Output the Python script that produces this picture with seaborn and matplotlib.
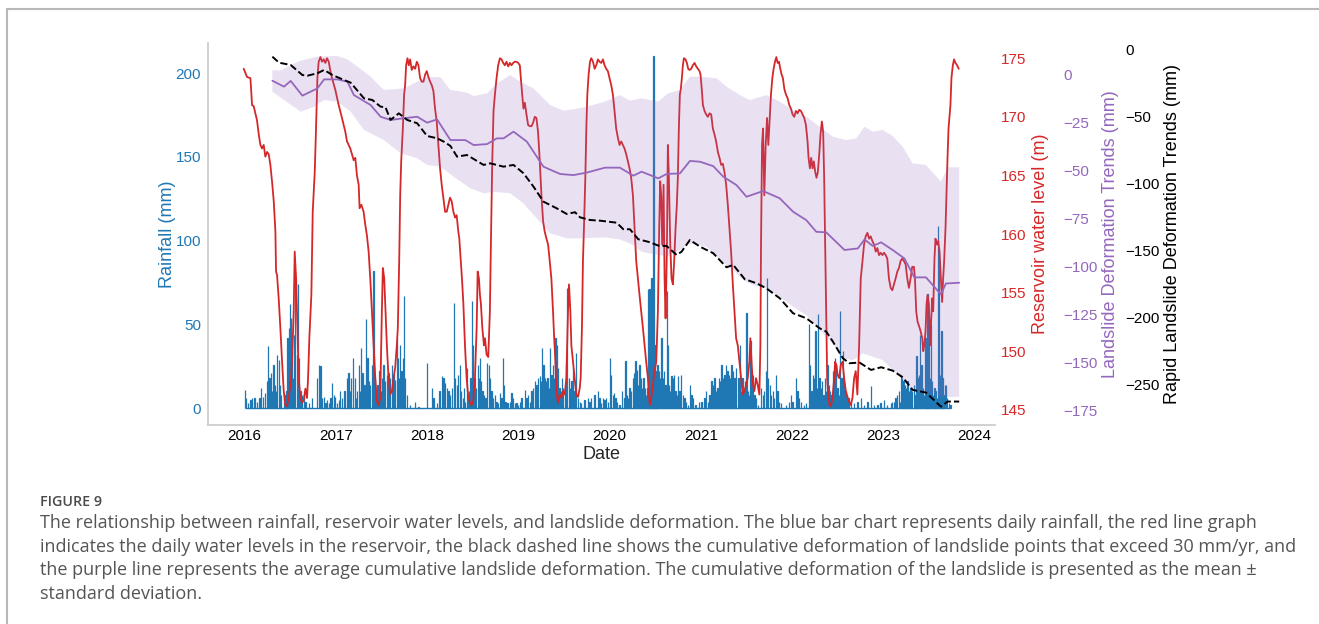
import numpy as np
import pandas as pd
import matplotlib
matplotlib.use("Agg")
import matplotlib.pyplot as plt
import matplotlib.dates as mdates
from matplotlib.lines import Line2D
import seaborn as sns

# ---------------- data (time in decimal years) ----------------
rain_t = [2016.006, 2016.020, 2016.042, 2016.068, 2016.086, 2016.111, 2016.140, 2016.166, 2016.180, 2016.202,
          2016.224, 2016.246, 2016.261, 2016.275, 2016.290, 2016.304, 2016.319, 2016.333, 2016.348, 2016.359,
          2016.377, 2016.395, 2016.406, 2016.432, 2016.450, 2016.461, 2016.472, 2016.486, 2016.497, 2016.508,
          2016.523, 2016.534, 2016.545, 2016.559, 2016.577, 2016.588, 2016.599, 2016.614, 2016.632, 2016.650,
          2016.669, 2016.705, 2016.741, 2016.796, 2016.814, 2016.833, 2016.851, 2016.869, 2016.887, 2016.905,
          2016.924, 2016.942, 2016.960, 2016.978, 2016.996, 2017.015, 2017.033, 2017.051, 2017.069, 2017.098,
          2017.124, 2017.142, 2017.160, 2017.171, 2017.190, 2017.208, 2017.222, 2017.237, 2017.252, 2017.270,
          2017.281, 2017.295,
          2017.317, 2017.335, 2017.350, 2017.364, 2017.379, 2017.397, 2017.415, 2017.430, 2017.444, 2017.459,
          2017.481, 2017.495, 2017.510, 2017.525, 2017.543, 2017.561, 2017.579, 2017.597, 2017.616, 2017.634,
          2017.652, 2017.670, 2017.681, 2017.692, 2017.707, 2017.721, 2017.736, 2017.747, 2017.761, 2017.780,
          2017.816, 2017.871, 2017.907, 2017.998, 2018.053, 2018.071, 2018.107, 2018.137, 2018.162, 2018.180,
          2018.199, 2018.217, 2018.235, 2018.253, 2018.271, 2018.297, 2018.311, 2018.326, 2018.344, 2018.362,
          2018.377, 2018.392, 2018.406, 2018.421, 2018.439, 2018.450, 2018.464, 2018.479, 2018.494, 2018.508,
          2018.523, 2018.537, 2018.556, 2018.570, 2018.581, 2018.596, 2018.610, 2018.625, 2018.643, 2018.661,
          2018.679, 2018.690, 2018.708, 2018.727, 2018.745, 2018.763, 2018.781, 2018.800, 2018.818, 2018.836,
          2018.847, 2018.861, 2018.883, 2018.909, 2018.927, 2018.945, 2018.963, 2018.982, 2019.000, 2019.018,
          2019.036, 2019.073, 2019.091, 2019.109, 2019.127, 2019.146, 2019.164, 2019.182, 2019.200, 2019.218,
          2019.237, 2019.248, 2019.262, 2019.277, 2019.291, 2019.306, 2019.320, 2019.335, 2019.350, 2019.364,
          2019.379, 2019.393, 2019.408, 2019.422, 2019.437, 2019.452, 2019.466, 2019.481, 2019.495, 2019.510,
          2019.524, 2019.539, 2019.554, 2019.568, 2019.583, 2019.601, 2019.619, 2019.637, 2019.656, 2019.674,
          2019.692, 2019.728, 2019.765, 2019.783, 2019.801, 2019.838, 2019.874, 2019.892, 2019.911, 2019.929,
          2019.947, 2019.965, 2019.983, 2020.005, 2020.020,
          2020.038, 2020.049, 2020.067, 2020.082, 2020.111, 2020.140, 2020.165, 2020.176, 2020.191, 2020.206,
          2020.220, 2020.238, 2020.257, 2020.271, 2020.286, 2020.300, 2020.315, 2020.329, 2020.344, 2020.359,
          2020.373, 2020.388, 2020.402, 2020.417, 2020.424, 2020.439, 2020.450, 2020.461, 2020.472, 2020.482,
          2020.493, 2020.504, 2020.515, 2020.526, 2020.541, 2020.555, 2020.570, 2020.584, 2020.599, 2020.614,
          2020.628, 2020.639, 2020.650, 2020.665, 2020.679, 2020.694, 2020.708, 2020.723, 2020.737, 2020.752,
          2020.767, 2020.785, 2020.803, 2020.821, 2020.839, 2020.858, 2020.883, 2020.898, 2020.912, 2020.941,
          2020.978, 2021.007, 2021.040, 2021.058, 2021.076, 2021.094, 2021.116, 2021.131, 2021.149, 2021.167,
          2021.182, 2021.196, 2021.211, 2021.226, 2021.240, 2021.258, 2021.277, 2021.291, 2021.306, 2021.320,
          2021.335, 2021.350, 2021.368, 2021.386,
          2021.411, 2021.426, 2021.440, 2021.455, 2021.470, 2021.484, 2021.499, 2021.513, 2021.528, 2021.542,
          2021.557, 2021.572, 2021.586, 2021.604, 2021.623, 2021.659, 2021.677, 2021.695, 2021.714, 2021.728,
          2021.739, 2021.754, 2021.768, 2021.787, 2021.805, 2021.823, 2021.841, 2021.859, 2021.878, 2021.932,
          2021.969, 2021.987, 2022.005, 2022.042, 2022.060, 2022.078, 2022.096, 2022.133, 2022.151, 2022.187,
          2022.198, 2022.213, 2022.227, 2022.242, 2022.256, 2022.271, 2022.286, 2022.300, 2022.315, 2022.329,
          2022.344, 2022.358, 2022.373, 2022.388, 2022.402, 2022.417, 2022.431, 2022.446, 2022.460, 2022.471,
          2022.482, 2022.497, 2022.511, 2022.526, 2022.541, 2022.555, 2022.570, 2022.584, 2022.599, 2022.617,
          2022.643, 2022.679, 2022.715, 2022.752,
          2022.788, 2022.825, 2022.861, 2022.898, 2022.934, 2022.970, 2023.007, 2023.043, 2023.080, 2023.098,
          2023.116, 2023.134, 2023.153, 2023.171, 2023.182, 2023.193, 2023.207, 2023.222, 2023.236, 2023.251,
          2023.265, 2023.280, 2023.298, 2023.316, 2023.335, 2023.353, 2023.364, 2023.375, 2023.389, 2023.404,
          2023.418, 2023.433, 2023.448, 2023.462, 2023.473, 2023.484, 2023.495, 2023.510, 2023.520, 2023.531,
          2023.546, 2023.560, 2023.571, 2023.586, 2023.597, 2023.612, 2023.622, 2023.637, 2023.648, 2023.659,
          2023.673, 2023.688, 2023.699, 2023.717, 2023.735]
rain_mm = [11, 6, 3, 5, 6, 6, 4, 6, 12, 7,
           9, 16, 37, 18, 21, 10, 26, 14, 10, 32,
           29, 14, 8, 6, 8, 10, 42, 48, 62, 54,
           28, 18, 44, 80, 32, 74, 30, 10, 8, 8,
           4, 3, 6, 18, 26, 25, 6, 7, 3, 5,
           3, 6, 15, 8, 7, 3, 5, 10, 6, 10,
           18, 21, 10, 18, 30, 18, 6, 10, 26, 10,
           36, 21,
           14, 53, 30, 16, 14, 26, 82, 18, 8, 14,
           22, 10, 18, 26, 16, 20, 21, 18, 26, 20,
           17, 42, 30, 18, 38, 22, 30, 67, 18, 8,
           2, 4, 1, 27, 12, 6, 3, 10, 19, 18,
           15, 12, 10, 8, 12, 63, 18, 14, 20, 26,
           10, 6, 12, 4, 24, 8, 10, 18, 64, 38,
           18, 12, 26, 18, 30, 16, 10, 8, 6, 27,
           26, 18, 10, 6, 8, 4, 3, 9, 6, 30,
           14, 4, 3, 4, 9, 6, 3, 3, 2, 4,
           6, 11, 6, 8, 4, 10, 12, 16, 14, 18,
           19, 16, 36, 26, 18, 16, 18, 12, 36, 20,
           26, 18, 42, 38, 24, 12, 10, 18, 12, 10,
           26, 72, 18, 12, 16, 24, 10, 33, 6, 4,
           3, 5, 6, 4, 6, 8, 10, 6, 3, 6,
           5, 6, 4, 30, 20,
           8, 9, 6, 4, 2, 10, 6, 28, 8, 6,
           12, 10, 18, 21, 28, 23, 14, 26, 18, 12,
           18, 12, 8, 12, 71, 71, 58, 78, 48, 210,
           38, 22, 16, 26, 22, 18, 42, 18, 22, 14,
           70, 38, 14, 10, 19, 18, 20, 10, 8, 19,
           10, 20, 8, 6, 4, 2, 14, 8, 6, 2,
           4, 4, 6, 10, 4, 8, 16, 14, 18, 10,
           12, 18, 16, 26, 18, 20, 26, 22, 20, 18,
           26, 22, 18, 24,
           18, 38, 10, 18, 12, 16, 57, 10, 8, 40,
           18, 20, 8, 6, 2, 12, 8, 10, 22, 78,
           18, 14, 8, 10, 6, 20, 10, 4, 3, 2,
           4, 8, 4, 18, 10, 6, 4, 2, 3, 50,
           26, 10, 20, 18, 46, 12, 56, 18, 12, 16,
           8, 18, 10, 26, 14, 10, 8, 22, 18, 30,
           26, 12, 8, 58, 18, 34, 16, 10, 8, 6,
           4, 3, 4, 6,
           2, 4, 13, 2, 2, 3, 5, 2, 3, 4,
           4, 6, 8, 10, 4, 20, 18, 16, 14, 12,
           16, 10, 12, 10, 14, 8, 31, 18, 20, 44,
           26, 12, 8, 42, 26, 68, 38, 18, 50, 16,
           8, 12, 10, 6, 109, 95, 20, 46, 18, 8,
           14, 14, 6, 3, 2]

level_t = [2015.995, 2016.031, 2016.068, 2016.086, 2016.104, 2016.140, 2016.159, 2016.177, 2016.195, 2016.213,
           2016.231, 2016.250, 2016.268, 2016.286, 2016.304, 2016.323, 2016.341, 2016.348, 2016.359, 2016.377,
           2016.395, 2016.414, 2016.432, 2016.450, 2016.468, 2016.486, 2016.505, 2016.523, 2016.541, 2016.552,
           2016.567, 2016.581, 2016.596, 2016.614, 2016.632, 2016.650, 2016.669, 2016.687, 2016.698, 2016.712,
           2016.734, 2016.749, 2016.771, 2016.785, 2016.800, 2016.814, 2016.833, 2016.851, 2016.869, 2016.887,
           2016.905, 2016.924, 2016.942, 2016.960, 2016.996, 2017.033, 2017.069, 2017.106, 2017.124, 2017.160,
           2017.197, 2017.215, 2017.233, 2017.252, 2017.262, 2017.281,
           2017.306, 2017.324, 2017.342, 2017.361, 2017.379, 2017.397, 2017.415, 2017.434, 2017.452, 2017.470,
           2017.488, 2017.506, 2017.517, 2017.532, 2017.546, 2017.561, 2017.579, 2017.597, 2017.616, 2017.634,
           2017.652, 2017.670, 2017.681, 2017.696, 2017.707, 2017.718, 2017.736, 2017.750, 2017.761, 2017.772,
           2017.787, 2017.801, 2017.816, 2017.834, 2017.852, 2017.871, 2017.889, 2017.907, 2017.925, 2017.944,
           2017.962, 2017.980, 2017.998, 2018.016, 2018.035, 2018.053, 2018.071, 2018.089, 2018.107, 2018.126,
           2018.144, 2018.162, 2018.180, 2018.199, 2018.217, 2018.235, 2018.253, 2018.271, 2018.290, 2018.308,
           2018.326, 2018.344, 2018.355, 2018.370, 2018.384, 2018.399, 2018.417, 2018.435, 2018.454, 2018.472,
           2018.490, 2018.508, 2018.526, 2018.545, 2018.556, 2018.570, 2018.581, 2018.592, 2018.607, 2018.625,
           2018.636, 2018.654,
           2018.672, 2018.690, 2018.701, 2018.716, 2018.730, 2018.745, 2018.763, 2018.781, 2018.800, 2018.818,
           2018.836, 2018.854, 2018.872, 2018.891, 2018.909, 2018.927, 2018.945, 2018.963, 2018.982, 2019.000,
           2019.018, 2019.029, 2019.044, 2019.058, 2019.073, 2019.091, 2019.109, 2019.127, 2019.146, 2019.164,
           2019.182, 2019.200, 2019.218, 2019.237, 2019.255, 2019.273, 2019.291, 2019.310, 2019.328, 2019.346,
           2019.364, 2019.382, 2019.393, 2019.408, 2019.419, 2019.437, 2019.455, 2019.473, 2019.492, 2019.510,
           2019.528, 2019.546, 2019.557, 2019.572, 2019.583, 2019.601, 2019.619, 2019.637, 2019.656, 2019.674,
           2019.685, 2019.699, 2019.710, 2019.721, 2019.736, 2019.747, 2019.758, 2019.772, 2019.787, 2019.801,
           2019.820, 2019.838, 2019.856, 2019.874, 2019.892, 2019.911, 2019.929, 2019.947, 2019.965, 2019.983,
           2020.002, 2020.020,
           2020.038, 2020.056, 2020.074, 2020.093, 2020.111, 2020.129, 2020.147, 2020.165, 2020.184, 2020.202,
           2020.220, 2020.238, 2020.257, 2020.275, 2020.293, 2020.311, 2020.329, 2020.348, 2020.366, 2020.384,
           2020.402, 2020.421, 2020.431, 2020.442, 2020.457, 2020.475, 2020.493, 2020.512, 2020.530, 2020.544,
           2020.555, 2020.566, 2020.577, 2020.592, 2020.603, 2020.614, 2020.628, 2020.639, 2020.650, 2020.665,
           2020.679, 2020.694, 2020.708, 2020.723, 2020.737, 2020.748, 2020.759, 2020.770, 2020.781, 2020.792,
           2020.803, 2020.814, 2020.832, 2020.847, 2020.861, 2020.876, 2020.894, 2020.912, 2020.931, 2020.949,
           2020.967, 2020.985, 2020.996, 2021.011, 2021.022, 2021.040, 2021.058, 2021.076, 2021.094, 2021.113,
           2021.131, 2021.149, 2021.167, 2021.186, 2021.204, 2021.222, 2021.240, 2021.258, 2021.277, 2021.295,
           2021.313, 2021.331, 2021.350, 2021.368, 2021.386,
           2021.404, 2021.422, 2021.440, 2021.459, 2021.477, 2021.495, 2021.513, 2021.532, 2021.542, 2021.557,
           2021.572, 2021.586, 2021.604, 2021.623, 2021.641, 2021.652, 2021.659, 2021.670, 2021.681, 2021.695,
           2021.710, 2021.725, 2021.739, 2021.754, 2021.768, 2021.783, 2021.797, 2021.812, 2021.827, 2021.841,
           2021.856, 2021.870, 2021.885, 2021.899, 2021.914, 2021.932, 2021.950, 2021.969, 2021.987, 2022.005,
           2022.023, 2022.042, 2022.060, 2022.078, 2022.096, 2022.114, 2022.133, 2022.151, 2022.169, 2022.180,
           2022.195, 2022.209, 2022.224, 2022.238, 2022.253, 2022.267, 2022.282, 2022.297, 2022.311, 2022.326,
           2022.340, 2022.351, 2022.362, 2022.373, 2022.384, 2022.395, 2022.410, 2022.424, 2022.442, 2022.461,
           2022.471, 2022.486, 2022.497, 2022.515, 2022.533, 2022.552, 2022.570, 2022.588, 2022.606, 2022.624,
           2022.643, 2022.661, 2022.679, 2022.697, 2022.715, 2022.734, 2022.752,
           2022.770, 2022.788, 2022.806, 2022.825, 2022.843, 2022.861, 2022.879, 2022.898, 2022.916, 2022.934,
           2022.952, 2022.970, 2022.989, 2023.007, 2023.025, 2023.043, 2023.061, 2023.080, 2023.098, 2023.116,
           2023.134, 2023.153, 2023.171, 2023.189, 2023.207, 2023.225, 2023.244, 2023.262, 2023.280, 2023.298,
           2023.316, 2023.335, 2023.346, 2023.360, 2023.375, 2023.389, 2023.408, 2023.426, 2023.437, 2023.448,
           2023.462, 2023.473, 2023.484, 2023.499, 2023.510, 2023.520, 2023.535, 2023.546, 2023.560, 2023.571,
           2023.586, 2023.601, 2023.615, 2023.630, 2023.644, 2023.655, 2023.666, 2023.681, 2023.692, 2023.703,
           2023.714, 2023.724, 2023.735, 2023.746, 2023.761, 2023.775, 2023.790, 2023.808, 2023.826]
level_m = [174.1, 173.4, 173.3, 171.0, 170.9, 169.7, 168.5, 167.6, 167.3, 167.6,
           166.6, 167.0, 166.8, 165.9, 164.5, 162.8, 160.2, 156.8, 156.5, 154.5,
           152.0, 149.1, 146.6, 145.4, 145.3, 146.0, 147.1, 149.1, 153.4, 158.5,
           156.2, 152.0, 147.7, 146.0, 145.6, 145.8, 146.8, 146.0, 147.7, 151.1,
           154.8, 161.9, 165.3, 169.0, 173.3, 174.7, 175.1, 174.7, 174.9, 174.6,
           175.0, 174.7, 173.9, 173.3, 172.3, 171.0, 169.9, 168.7, 167.9, 167.3,
           166.3, 166.5, 165.0, 164.2, 162.2, 162.5,
           161.9, 160.8, 159.9, 158.5, 156.2, 153.4, 150.5, 147.7, 145.7, 145.4,
           146.0, 153.4, 157.1, 156.2, 153.4, 150.5, 147.7, 146.3, 146.6, 147.7,
           148.6, 150.5, 152.0, 157.7, 163.3, 166.2, 169.0, 171.9, 172.7, 174.4,
           175.0, 174.4, 174.9, 174.0, 174.3, 174.1, 174.7, 174.4, 173.3, 173.0,
           173.0, 173.6, 173.9, 173.4, 173.0, 172.7, 172.2, 170.7, 169.6, 167.6,
           165.6, 164.2, 163.1, 161.9, 161.9, 162.5, 163.1, 162.8, 161.9, 161.4,
           161.6, 160.2, 159.6, 157.9, 156.2, 154.1, 150.5, 147.7, 146.0, 145.6,
           145.4, 145.8, 147.7, 152.0, 156.8, 156.2, 154.8, 154.0, 152.0, 150.5,
           151.1, 149.7,
           149.5, 153.4, 159.1, 166.2, 170.5, 171.9, 173.3, 174.4, 175.0, 174.9,
           174.6, 174.4, 174.7, 174.3, 174.6, 174.4, 174.6, 174.7, 174.7, 174.6,
           174.4, 173.3, 171.9, 170.7, 171.2, 170.2, 169.3, 169.2, 169.2, 169.5,
           170.0, 169.9, 168.7, 166.2, 163.3, 161.1, 160.2, 159.6, 159.1, 157.7,
           156.2, 153.4, 151.4, 149.1, 146.6, 145.6, 146.3, 146.0, 146.6, 146.3,
           147.7, 153.4, 155.7, 153.4, 150.5, 149.1, 147.7, 146.3, 146.1, 146.8,
           147.7, 152.0, 157.7, 160.5, 164.8, 169.0, 171.9, 173.6, 174.7, 175.0,
           174.7, 174.1, 174.4, 174.9, 174.7, 174.6, 174.9, 174.4, 174.1, 173.9,
           173.3, 172.7,
           171.9, 170.5, 169.0, 168.2, 167.6, 167.9, 167.6, 167.3, 166.8, 166.2,
           165.6, 164.8, 163.3, 160.5, 157.7, 156.2, 154.8, 153.4, 152.0, 150.5,
           149.1, 147.7, 146.3, 145.4, 146.0, 147.1, 148.3, 149.1, 153.4, 160.5,
           164.5, 163.3, 159.1, 164.2, 156.2, 152.8, 158.5, 167.6, 164.8, 159.1,
           156.2, 155.7, 157.7, 160.5, 162.5, 164.8, 169.0, 171.9, 172.4, 173.3,
           174.4, 175.0, 174.9, 174.6, 174.1, 174.0, 174.1, 174.4, 174.6, 174.3,
           174.1, 173.9, 173.6, 172.2, 171.0, 170.5, 170.2, 170.0, 170.3, 170.2,
           169.0, 168.5, 167.9, 167.0, 166.5, 165.9, 166.0, 165.3, 164.2, 162.5,
           160.5, 158.5, 155.7, 153.4, 151.1,
           150.5, 149.1, 147.7, 146.3, 146.6, 147.1, 147.7, 149.1, 151.1, 148.8,
           147.1, 146.6, 147.7, 147.1, 146.3, 150.5, 159.1, 167.6, 169.0, 163.3,
           167.6, 169.9, 167.6, 169.9, 171.9, 173.3, 174.1, 174.7, 175.1, 174.6,
           174.7, 174.1, 173.6, 173.3, 172.4, 171.9, 171.6, 171.0, 170.7, 170.2,
           170.0, 170.5, 170.3, 170.6, 170.5, 170.2, 169.9, 169.3, 167.9, 166.5,
           165.6, 166.5, 165.6, 166.2, 165.3, 164.8, 165.3, 166.8, 168.5, 169.6,
           168.7, 164.8, 159.1, 153.4, 147.7, 146.3, 145.4, 145.3, 146.0, 147.7,
           149.1, 148.8, 148.0, 147.7, 148.8, 149.1, 147.7, 146.6, 146.1, 145.7,
           145.4, 146.0, 147.7, 148.3, 146.3, 150.5, 156.2,
           157.6, 159.1, 159.8, 160.1, 159.6, 159.8, 159.4, 159.1, 158.5, 158.8,
           158.2, 158.4, 158.2, 158.4, 158.2, 157.9, 156.2, 155.4, 155.2, 155.7,
           156.2, 156.8, 157.1, 157.7, 157.9, 157.7, 157.4, 156.2, 155.4, 156.2,
           157.2, 157.2, 156.2, 153.4, 152.5, 152.2, 151.7, 151.1, 150.0, 150.5,
           151.7, 154.0, 154.8, 154.0, 150.5, 152.0, 154.5, 153.4, 157.9, 159.6,
           159.1, 159.4, 158.5, 156.2, 154.2, 156.2, 157.7, 160.5, 163.6, 166.5,
           169.0, 169.9, 171.0, 173.3, 174.4, 174.9, 174.6, 174.4, 174.1]

mean_t = [2016.308, 2016.435, 2016.508, 2016.636, 2016.800, 2016.873, 2017.018, 2017.128, 2017.200, 2017.383,
          2017.492, 2017.601, 2017.747, 2017.893, 2018.002, 2018.111, 2018.257, 2018.421, 2018.512, 2018.658,
          2018.767, 2018.840, 2018.949, 2019.095, 2019.277, 2019.459, 2019.605, 2019.750, 2019.951, 2020.115,
          2020.261, 2020.352, 2020.534, 2020.625, 2020.771, 2020.880, 2020.990, 2021.135, 2021.245, 2021.390,
          2021.500, 2021.682, 2021.864, 2022.010, 2022.155, 2022.265, 2022.374, 2022.574, 2022.720, 2022.793,
          2022.884, 2022.975, 2023.102, 2023.230, 2023.339, 2023.467, 2023.631, 2023.685, 2023.831]
mean_mm = [-3.0, -6.1, -3.1, -10.8, -7.0, -2.3, -2.3, -3.5, -10.5, -15.7,
           -21.8, -23.5, -22.6, -21.8, -24.9, -23.2, -34.0, -34.0, -36.6, -36.1,
           -33.1, -33.1, -29.6, -34.8, -47.9, -51.7, -52.3, -51.0, -48.4, -48.4,
           -52.6, -50.5, -54.0, -51.7, -51.4, -44.9, -45.3, -47.6, -53.1, -57.5,
           -63.6, -60.6, -64.4, -71.4, -75.8, -81.9, -82.2, -91.4, -90.6, -85.9,
           -89.3, -87.4, -91.4, -95.8, -105.7, -105.7, -114.6, -108.9, -108.5]

upper_t = [2016.308, 2016.399, 2016.490, 2016.618, 2016.800, 2017.018, 2017.128, 2017.237, 2017.383, 2017.528,
           2017.747, 2017.893, 2018.002, 2018.148, 2018.257, 2018.439, 2018.512, 2018.658, 2018.767, 2018.913,
           2019.022, 2019.168, 2019.350, 2019.496, 2019.605, 2019.750, 2019.951, 2020.115, 2020.224, 2020.352,
           2020.534, 2020.643, 2020.771, 2020.880, 2020.990, 2021.172, 2021.281, 2021.427, 2021.536, 2021.718,
           2021.864, 2022.010, 2022.155, 2022.301, 2022.447, 2022.592, 2022.702, 2022.793, 2022.884, 2022.993,
           2023.102, 2023.212, 2023.321, 2023.467, 2023.631, 2023.704, 2023.831]
upper_mm = [2.6, 2.3, 4.7, 7.5, 9.6, 9.9, 8.2, 4.4, -0.9, -7.8,
            -7.0, -3.5, -0.9, -1.2, -7.8, -9.2, -11.0, -9.6, -4.4, 0.0,
            -3.5, -7.0, -15.7, -18.6, -17.9, -16.6, -13.9, -10.5, -13.4, -12.2,
            -13.9, -9.6, -7.8, -0.9, -0.9, -1.7, -6.1, -10.5, -13.1, -10.5,
            -13.9, -18.3, -21.8, -27.0, -32.2, -34.0, -33.1, -27.0, -29.6, -28.7,
            -31.9, -37.5, -46.2, -47.0, -55.7, -48.2, -48.2]

lower_t = [2016.308, 2016.435, 2016.618, 2016.763, 2016.873, 2017.018, 2017.164, 2017.310, 2017.528, 2017.711,
           2017.893, 2018.002, 2018.148, 2018.293, 2018.476, 2018.621, 2018.731, 2018.913, 2019.058, 2019.204,
           2019.350, 2019.532, 2019.714, 2019.951, 2020.115, 2020.261, 2020.352, 2020.534, 2020.643, 2020.771,
           2020.880, 2021.062, 2021.208, 2021.354, 2021.463, 2021.572, 2021.718, 2021.864, 2022.010, 2022.155,
           2022.301, 2022.447, 2022.556, 2022.665, 2022.775, 2022.884, 2022.993, 2023.102, 2023.212, 2023.321,
           2023.467, 2023.631, 2023.722, 2023.831]
lower_mm = [-8.7, -13.1, -19.2, -16.6, -13.1, -13.9, -19.2, -28.7, -34.0, -40.9,
            -43.5, -47.0, -47.9, -53.1, -59.2, -61.8, -61.0, -61.8, -67.1, -74.9,
            -82.7, -85.3, -85.3, -84.8, -85.9, -88.8, -92.3, -94.1, -94.6, -91.4,
            -88.0, -89.7, -96.7, -101.9, -107.1, -109.7, -111.5, -115.8, -121.0, -125.4,
            -133.2, -140.2, -148.0, -148.9, -145.4, -147.2, -148.9, -154.1, -159.4, -164.6,
            -165.5, -168.1, -168.1, -168.1]

rapid_t = [2016.308, 2016.381, 2016.508, 2016.636, 2016.690, 2016.800, 2016.873, 2016.964, 2017.091, 2017.164,
           2017.310, 2017.401, 2017.492, 2017.546, 2017.601, 2017.692, 2017.783, 2017.893, 2018.002, 2018.111,
           2018.184, 2018.257, 2018.330, 2018.439, 2018.530, 2018.621, 2018.694, 2018.840, 2018.949, 2019.058,
           2019.168, 2019.277, 2019.423, 2019.532, 2019.623, 2019.678, 2019.787, 2019.896, 2020.079, 2020.152,
           2020.224, 2020.316, 2020.443, 2020.534, 2020.625, 2020.735, 2020.789, 2020.880, 2020.990, 2021.135,
           2021.281, 2021.354, 2021.481, 2021.609, 2021.718, 2021.864, 2022.010, 2022.155, 2022.301, 2022.374,
           2022.447, 2022.556, 2022.629, 2022.738, 2022.865, 2022.975, 2023.102, 2023.212, 2023.321, 2023.467,
           2023.631, 2023.704, 2023.831]
rapid_mm = [-5.0, -9.5, -11.2, -18.7, -19.2, -17.4, -14.9, -18.7, -22.4, -24.4,
            -36.1, -37.3, -42.3, -42.8, -52.2, -47.3, -52.2, -54.7, -64.2, -65.9,
            -68.4, -71.6, -79.6, -78.4, -82.1, -85.8, -84.6, -87.1, -85.8, -92.0,
            -102.0, -113.2, -118.2, -122.4, -121.1, -124.9, -126.9, -127.4, -128.9, -133.8,
            -133.8, -141.3, -143.5, -146.0, -146.3, -153.0, -150.5, -141.8, -146.8, -151.7,
            -162.2, -160.4, -171.1, -174.1, -177.9, -185.3, -196.5, -200.2, -207.7, -210.2,
            -217.7, -230.1, -233.8, -233.3, -238.8, -236.8, -239.3, -244.3, -253.7, -255.7,
            -266.2, -262.4, -262.4]

x_ticks = [2016, 2017, 2018, 2019, 2020, 2021, 2022, 2023, 2024]
rain_ticks = [0, 50, 100, 150, 200]
level_ticks = [145, 150, 155, 160, 165, 170, 175]
mean_ticks = [0, -25, -50, -75, -100, -125, -150, -175]
rapid_ticks = [0, -50, -100, -150, -200, -250]

caption_head = "FIGURE 9"
caption_lines = [
    "The relationship between rainfall, reservoir water levels, and landslide deformation. The blue bar chart represents daily rainfall, the red line graph",
    "indicates the daily water levels in the reservoir, the black dashed line shows the cumulative deformation of landslide points that exceed 30 mm/yr, and",
    "the purple line represents the average cumulative landslide deformation. The cumulative deformation of the landslide is presented as the mean \u00b1",
    "standard deviation.",
]


def to_date(years):
    """decimal year -> pandas Timestamps"""
    out = []
    for y in np.asarray(years, dtype=float):
        yi = int(np.floor(y))
        start = pd.Timestamp(year=yi, month=1, day=1)
        end = pd.Timestamp(year=yi + 1, month=1, day=1)
        out.append(start + (end - start) * (y - yi))
    return pd.DatetimeIndex(out)


BLUE, RED, PURPLE, BLACK = "#1f77b4", "#d62728", "#9467bd", "#000000"

sns.set_theme(style="white")
plt.rcParams["font.family"] = ["Liberation Sans", "DejaVu Sans"]
plt.rcParams["axes.unicode_minus"] = True

W, H = 1319, 624
fig = plt.figure(figsize=(W / 100, H / 100), dpi=100)
ax = fig.add_axes([208 / W, (H - 425) / H, 787 / W, 382 / H])

# rainfall (bars)
rd = to_date(rain_t)
ax.bar(rd, rain_mm, width=1.2, color=BLUE, edgecolor=BLUE, linewidth=0.9, zorder=2)
ax.hlines(0, rd.min(), rd.max(), color=BLUE, lw=1.0, zorder=2)

all_t = np.concatenate([rain_t, level_t, mean_t])
span = all_t.max() - all_t.min()
ax.set_xlim(to_date([all_t.min() - 0.05 * span])[0], to_date([all_t.max() + 0.05 * span])[0])
ax.set_ylim(-10, 218)
ax.set_yticks(rain_ticks)
ax.set_xticks(to_date(x_ticks))
ax.xaxis.set_major_formatter(mdates.DateFormatter("%Y"))
ax.set_ylabel("Rainfall (mm)", color=BLUE, fontsize=13, labelpad=0)
ax.set_xlabel("Date", fontsize=13, labelpad=2)
ax.tick_params(axis="y", colors=BLUE, labelsize=11, length=0, pad=5)
ax.tick_params(axis="x", colors=BLACK, labelsize=11, length=0, pad=3)
for s in ["top", "right"]:
    ax.spines[s].set_visible(False)
for s in ["left", "bottom"]:
    ax.spines[s].set_color("#cccccc")
    ax.spines[s].set_linewidth(1.25)

# reservoir level
ax2 = ax.twinx()
sns.lineplot(x=to_date(level_t), y=level_m, ax=ax2, color=RED, lw=1.3, sort=False)
ax2.set_ylim(143.7, 176.3)
ax2.set_yticks(level_ticks)
ax2.set_ylabel("Reservoir water level (m)", color=RED, fontsize=13, labelpad=4)
ax2.tick_params(axis="y", colors=RED, labelsize=11, length=0, pad=4)

# mean landslide deformation +- std
ax3 = ax.twinx()
ax3.spines["right"].set_position(("axes", 1.08))
band_x = np.concatenate([mdates.date2num(to_date(upper_t)), mdates.date2num(to_date(lower_t))[::-1]])
band_y = np.concatenate([upper_mm, lower_mm[::-1]])
ax3.fill(band_x, band_y, color=PURPLE, alpha=0.2, lw=0)
sns.lineplot(x=to_date(mean_t), y=mean_mm, ax=ax3, color=PURPLE, lw=1.3, sort=False)
ax3.set_ylim(-182.8, 16.7)
ax3.set_yticks(mean_ticks)
ax3.set_ylabel("Landslide Deformation Trends (mm)", color=PURPLE, fontsize=13, labelpad=3)
ax3.tick_params(axis="y", colors=PURPLE, labelsize=11, length=0, pad=4)

# rapid landslide deformation
ax4 = ax.twinx()
ax4.spines["right"].set_position(("axes", 1.16))
sns.lineplot(x=to_date(rapid_t), y=rapid_mm, ax=ax4, color=BLACK, lw=1.4, linestyle="--", sort=False)
ax4.set_ylim(-279.9, 5.2)
ax4.set_yticks(rapid_ticks)
ax4.set_ylabel("Rapid Landslide Deformation Trends (mm)", color=BLACK, fontsize=13, labelpad=3)
ax4.tick_params(axis="y", colors=BLACK, labelsize=11, length=0, pad=3)

for a in (ax2, ax3, ax4):
    for s in a.spines.values():
        s.set_visible(False)
    a.set_xlim(ax.get_xlim())

# frame
fig.add_artist(Line2D([7 / W, 1], [1 - 9 / H, 1 - 9 / H], transform=fig.transFigure, color="#b8b8b8", lw=1.5))
fig.add_artist(Line2D([7 / W, 7 / W], [0, 1 - 9 / H], transform=fig.transFigure, color="#b8b8b8", lw=1.5))

# caption
cap_font = ["Open Sans", "DejaVu Sans"]
head = fig.text(40 / W, 1 - 502 / H, caption_head, fontsize=10, color="#4a4a4a", family=cap_font,
                fontweight="semibold", va="center")
txts = []
for i, line in enumerate(caption_lines):
    y = [523, 547, 570, 594][i]
    txts.append(fig.text(40 / W, 1 - y / H, line, fontsize=12.5, color="#555555", family=cap_font,
                         va="center"))
renderer = fig.canvas.get_renderer()
w0 = txts[0].get_window_extent(renderer).width
scale = 1222.0 / w0
for t in txts:
    t.set_fontsize(12.5 * scale)
wh = head.get_window_extent(renderer).width
head.set_fontsize(10 * 62.0 / wh)

fig.savefig("out.png", dpi=100, facecolor="white")
